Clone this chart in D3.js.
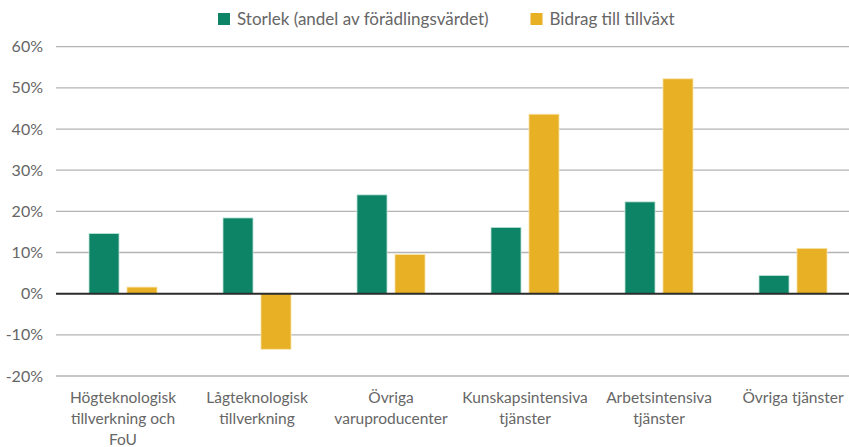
<!DOCTYPE html>
<html>
<head>
<meta charset="utf-8">
<script src="https://cdn.jsdelivr.net/npm/d3@7"></script>
<style>
  body { margin: 0; background: #fff; }
  svg { display: block; font-family: Lato, "Open Sans", sans-serif; }
</style>
</head>
<body>
<div id="chart"></div>
<script>
// 1: DATA
const categories = [
    "Högteknologisk tillverkning och FoU",
    "Lågteknologisk tillverkning",
    "Övriga varuproducenter",
    "Kunskapsintensiva tjänster",
    "Arbetsintensiva tjänster",
    "Övriga tjänster"
];
// how each category label is split over lines
const categoryLines = [
    ["Högteknologisk", "tillverkning och", "FoU"],
    ["Lågteknologisk", "tillverkning"],
    ["Övriga", "varuproducenter"],
    ["Kunskapsintensiva", "tjänster"],
    ["Arbetsintensiva", "tjänster"],
    ["Övriga tjänster"]
];
const seriesNames = ["Storlek (andel av förädlingsvärdet)", "Bidrag till tillväxt"];
const storlek = [14.6, 18.4, 24.0, 16.1, 22.3, 4.4];
const bidrag = [1.6, -13.5, 9.5, 43.6, 52.2, 11.0];
const yTicks = [-20, -10, 0, 10, 20, 30, 40, 50, 60];

// 2: SETUP
const W = 849, H = 447;
const colors = ["#0e8466", "#e7b025"];

const svg = d3.select("#chart").append("svg")
    .attr("width", W)
    .attr("height", H);

const rows = categories.map((c, i) => ({ cat: c, values: [storlek[i], bidrag[i]] }));

// 3: SCALES
const y = d3.scaleLinear().domain([-20, 60]).range([376, 46.7]);

const x0 = d3.scaleBand()
    .domain(categories)
    .range([56, 860])
    .paddingInner(0.4925)
    .paddingOuter(0.4925 / 2);

const x1 = d3.scaleBand()
    .domain([0, 1])
    .range([0, x0.bandwidth()])
    .paddingInner(0.21);

// 4: GRIDLINES + Y AXIS LABELS
svg.append("g")
    .selectAll("line")
    .data(yTicks.filter(d => d !== 0))
    .join("line")
    .attr("x1", 56)
    .attr("x2", W)
    .attr("y1", d => y(d))
    .attr("y2", d => y(d))
    .attr("stroke", "#b4b4b4")
    .attr("stroke-width", 1.3);

svg.append("g")
    .selectAll("text")
    .data(yTicks)
    .join("text")
    .attr("x", 43)
    .attr("y", d => y(d))
    .attr("dy", "0.35em")
    .attr("text-anchor", "end")
    .attr("fill", "#666")
    .style("font-size", "16px")
    .text(d => d + "%");

// 5: BARS
const groups = svg.append("g")
    .selectAll("g")
    .data(rows)
    .join("g")
    .attr("transform", d => `translate(${x0(d.cat)},0)`);

groups.selectAll("rect")
    .data(d => d.values.map((v, k) => ({ k, v })))
    .join("rect")
    .attr("x", d => x1(d.k))
    .attr("width", x1.bandwidth())
    .attr("y", d => y(Math.max(0, d.v)))
    .attr("height", d => Math.abs(y(d.v) - y(0)))
    .attr("fill", d => colors[d.k])
    .attr("stroke", d => d.k === 0 ? "#bfe3d8" : "#f8e3a8")
    .attr("stroke-width", 0.8);

// zero line
svg.append("line")
    .attr("x1", 56)
    .attr("x2", W)
    .attr("y1", y(0))
    .attr("y2", y(0))
    .attr("stroke", "#2b2b2b")
    .attr("stroke-width", 2);

// 6: CATEGORY LABELS
const labels = svg.append("g")
    .selectAll("text")
    .data(categoryLines)
    .join("text")
    .attr("text-anchor", "middle")
    .attr("fill", "#666")
    .style("font-size", "15.5px")
    .attr("transform", (d, i) => `translate(${x0(categories[i]) + x0.bandwidth() / 2},403)`);

labels.selectAll("tspan")
    .data(d => d)
    .join("tspan")
    .attr("x", 0)
    .attr("y", (d, i) => i * 21)
    .text(d => d);

// 7: LEGEND
const legendX = [218, 530.5];
const legend = svg.append("g")
    .selectAll("g")
    .data(seriesNames)
    .join("g")
    .attr("transform", (d, i) => `translate(${legendX[i]},13)`);

legend.append("rect")
    .attr("width", 12)
    .attr("height", 12)
    .attr("fill", (d, i) => colors[i]);

legend.append("text")
    .attr("x", 19)
    .attr("y", 11.5)
    .attr("fill", "#666")
    .style("font-size", "17px")
    .text(d => d);
</script>
</body>
</html>
